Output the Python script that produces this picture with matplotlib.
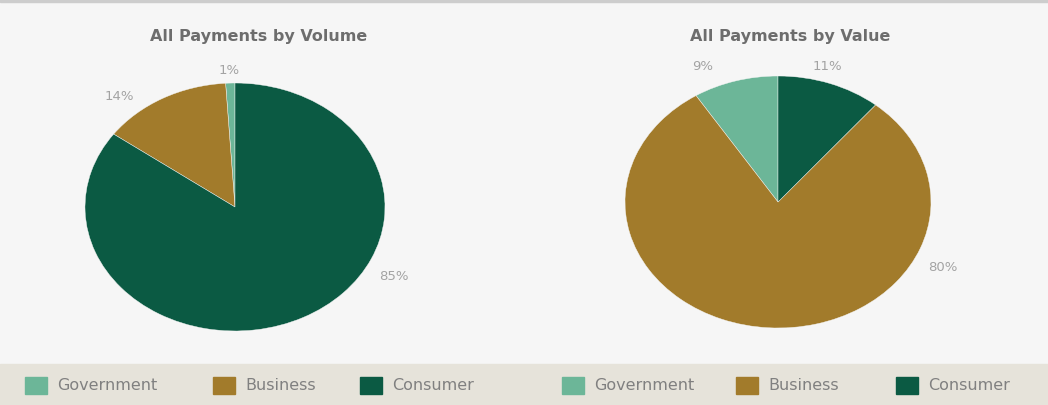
# payment mix pies: share of volume vs share of value

import matplotlib.pyplot as plt
from matplotlib.patches import Rectangle

categories = ['Government', 'Business', 'Consumer']
volume_pct = [1, 14, 85]
value_pct = [9, 80, 11]

colors = ['#6cb698', '#a27b2b', '#0b5a43']
label_grey = '#a3a3a3'
title_grey = '#6d6d6d'

# where each % label sits, in pie-radius units from the pie centre
# (same order as categories)
volume_label_xy = [(-0.04, 1.11), (-0.77, 0.90), (1.06, -0.55)]
value_label_xy = [(-0.49, 1.08), (1.08, -0.51), (0.32, 1.08)]

W, H = 1048, 406
fig = plt.figure(figsize=(W / 100, H / 100), dpi=100)
fig.patch.set_facecolor('#f6f6f6')


def draw_pie(rect, values, label_xy):
    ax = fig.add_axes(rect)
    ax.pie(values, colors=colors, startangle=90, counterclock=True,
           wedgeprops=dict(linewidth=0.3, edgecolor='#f6f6f6'))
    ax.set_aspect('auto')  # let the pie stretch into an ellipse
    ax.set_xlim(-1.2, 1.2)
    ax.set_ylim(-1.2, 1.2)
    ax.set_facecolor('none')
    for v, (x, y) in zip(values, label_xy):
        ax.text(x, y, f'{v}%', ha='center', va='center', fontsize=9.5,
                color=label_grey)
    return ax


draw_pie([55 / W, 49.2 / H, 360 / W, 297.6 / H], volume_pct, volume_label_xy)
draw_pie([594.4 / W, 51.8 / H, 367.2 / W, 302.4 / H], value_pct, value_label_xy)

fig.text(259 / W, 1 - 37 / H, 'All Payments by Volume', ha='center', va='center',
         fontsize=11.5, fontweight='bold', color=title_grey)
fig.text(790 / W, 1 - 37 / H, 'All Payments by Value', ha='center', va='center',
         fontsize=11.5, fontweight='bold', color=title_grey)

# thin rule across the top
fig.patches.append(Rectangle((0, 1 - 3 / H), 1, 3 / H, transform=fig.transFigure,
                             color='#cdcdcd', zorder=0))

# legend strip along the bottom
fig.patches.append(Rectangle((0, 0), 1, 41 / H, transform=fig.transFigure,
                             color='#e6e3da', zorder=0))

legend_groups = [[25, 213, 360], [562, 736, 896]]
for xs in legend_groups:
    for name, c, x in zip(categories, colors, xs):
        fig.patches.append(Rectangle((x / W, 11 / H), 22 / W, 17 / H,
                                     transform=fig.transFigure, color=c, zorder=1))
        fig.text((x + 32) / W, 20 / H, name, ha='left', va='center',
                 fontsize=11.5, color='#808080')

fig.savefig('out.png', dpi=100, facecolor=fig.get_facecolor())
